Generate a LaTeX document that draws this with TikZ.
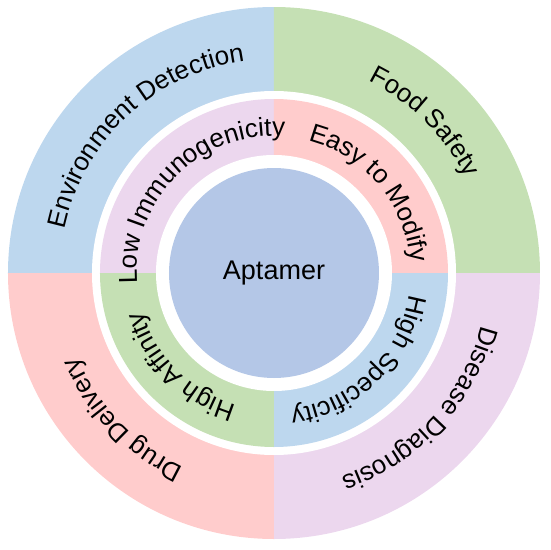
\documentclass[tikz,border=0pt]{standalone}
\usepackage{fontspec}
\setmainfont{Liberation Sans}
\usepackage{tikz}
\usepackage{xcolor}
\usetikzlibrary{decorations.text}
\definecolor{cBlue}{RGB}{189,215,238}
\definecolor{cGreen}{RGB}{197,224,180}
\definecolor{cPink}{RGB}{255,204,204}
\definecolor{cLilac}{RGB}{236,215,238}
\definecolor{cCore}{RGB}{180,199,231}
\newcommand{\ringfont}{\fontsize{26}{30}\selectfont}
\tikzset{
	core/.style    ={circle, fill=cCore, minimum size=210pt, inner sep=0pt, font=\fontsize{27}{32}\selectfont},
	arclabel/.style={decorate, decoration={text along path, text align=center, text={|\ringfont|#1}}},
}

\begin{document}
\begin{tikzpicture}
	\useasboundingbox (-274pt,-277pt) rectangle (276pt,273pt);
	\def\ra{266pt}
	\def\rb{182pt}
	\def\rc{174pt}
	\def\rd{118pt}
	% outer ring: applications
	\foreach \a/\col in {90/cBlue, 0/cGreen, -90/cLilac, -180/cPink} {
		\fill[\col] (0,0) -- (\a:\ra) arc[start angle=\a, delta angle=90, radius=\ra] -- cycle;
	}
	\fill[white] (0,0) circle[radius=\rb];
	% inner ring: properties
	\foreach \a/\col in {90/cLilac, 0/cPink, -90/cBlue, -180/cGreen} {
		\fill[\col] (0,0) -- (\a:\rc) arc[start angle=\a, delta angle=90, radius=\rc] -- cycle;
	}
	\fill[white] (0,0) circle[radius=\rd];
	\node[core] (apt) at (0,0) {Aptamer};
	% labels along the rings, read clockwise
	\foreach \m/\lab in {133/Environment Detection, 45/Food Safety, -43/Disease Diagnosis, -136/Drug Delivery} {
		\path[arclabel/.expanded=\lab] ({\m+80}:214pt) arc[start angle=\m+80, end angle=\m-80, radius=214pt];
	}
	\foreach \m/\lab in {135/Low Immunogenicity, 40/Easy to Modify, -46/High Specificity, -135/High Affinity} {
		\path[arclabel/.expanded=\lab] ({\m+80}:137pt) arc[start angle=\m+80, end angle=\m-80, radius=137pt];
	}
\end{tikzpicture}
\end{document}
